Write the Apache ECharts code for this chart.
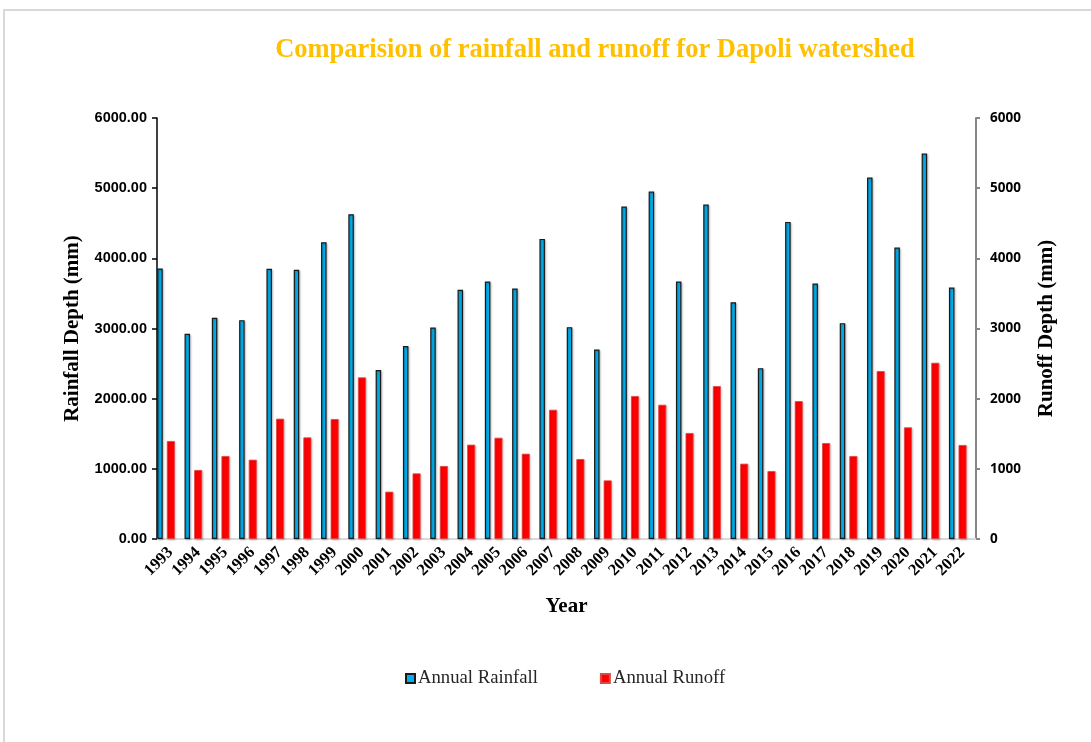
<!DOCTYPE html>
<html>
<head>
<meta charset="utf-8">
<script src="https://cdn.jsdelivr.net/npm/echarts@6/dist/echarts.min.js"></script>
<style>
  html, body { margin: 0; padding: 0; background: #ffffff; }
  #chart { width: 1091px; height: 742px; }
</style>
</head>
<body>
<div id="chart"></div>
<script>
const years = ['1993','1994','1995','1996','1997','1998','1999','2000','2001','2002','2003','2004','2005','2006','2007','2008','2009','2010','2011','2012','2013','2014','2015','2016','2017','2018','2019','2020','2021','2022'];
const annualRainfall = [3855, 2924, 3152, 3119, 3850, 3836, 4230, 4629, 2407, 2749, 3015, 3551, 3670, 3570, 4277, 3019, 2701, 4738, 4951, 3670, 4766, 3375, 2435, 4519, 3641, 3076, 5151, 4154, 5493, 3585];
const annualRunoff = [1396, 983, 1182, 1130, 1714, 1448, 1709, 2303, 674, 935, 1040, 1344, 1443, 1215, 1842, 1139, 835, 2037, 1913, 1510, 2179, 1073, 968, 1965, 1367, 1182, 2393, 1591, 2511, 1339];
const axisMin = 0, axisMax = 6000, axisStep = 1000;

const serif = '"Liberation Serif", "Times New Roman", serif';
const sans = '"Liberation Sans", Arial, sans-serif';

const chart = echarts.init(document.getElementById('chart'), null, { renderer: 'canvas' });
chart.setOption({
  backgroundColor: '#ffffff',
  animation: false,
  graphic: [{
    type: 'rect', silent: true, z: -10,
    shape: { x: 4, y: 10, width: 1200, height: 1000 },
    style: { fill: 'none', stroke: '#d9d9d9', lineWidth: 2 }
  }],
  title: {
    text: 'Comparision of rainfall and runoff for Dapoli watershed',
    left: 590, top: 32, textAlign: 'center',
    textStyle: { fontFamily: serif, fontWeight: 'bold', fontSize: 26.5, color: '#FFC000' }
  },
  legend: {
    data: ['Annual Rainfall', 'Annual Runoff'],
    left: 400, top: 664,
    itemWidth: 9, itemHeight: 9, itemGap: 62,
    icon: 'rect',
    textStyle: { fontFamily: serif, fontSize: 18.7, color: '#262626', padding: [0, 0, 0, -2] }
  },
  grid: { left: 157, right: 115, top: 118, bottom: 203, containLabel: false },
  xAxis: {
    type: 'category', data: years,
    name: 'Year', nameLocation: 'middle', nameGap: 57,
    nameTextStyle: { fontFamily: serif, fontWeight: 'bold', fontSize: 21, color: '#000' },
    axisLine: { show: true, lineStyle: { color: '#d9d9d9', width: 2 } },
    axisTick: { show: false },
    axisLabel: { rotate: 45, interval: 0, margin: 11, fontFamily: serif, fontWeight: 'bold', fontSize: 16.5, color: '#000' },
    splitLine: { show: false }
  },
  yAxis: [{
    type: 'value', min: axisMin, max: axisMax, interval: axisStep, position: 'left',
    name: 'Rainfall Depth (mm)', nameLocation: 'middle', nameGap: 74, nameRotate: 90,
    nameTextStyle: { fontFamily: serif, fontWeight: 'bold', fontSize: 21, color: '#000' },
    axisLine: { show: true, lineStyle: { color: '#000', width: 1.5 } },
    axisTick: { show: true, inside: false, length: 5, lineStyle: { color: '#000', width: 1.5 } },
    axisLabel: { margin: 10, formatter: v => v.toFixed(2), fontFamily: sans, fontWeight: 'bold', fontSize: 14.5, color: '#000' },
    splitLine: { show: false }
  }, {
    type: 'value', min: axisMin, max: axisMax, interval: axisStep, position: 'right',
    name: 'Runoff Depth (mm)', nameLocation: 'middle', nameGap: 60, nameRotate: 90,
    nameTextStyle: { fontFamily: serif, fontWeight: 'bold', fontSize: 21, color: '#000' },
    axisLine: { show: true, lineStyle: { color: '#868686', width: 2 } },
    axisTick: { show: true, inside: false, length: 4, lineStyle: { color: '#868686', width: 2 } },
    axisLabel: { margin: 14, formatter: v => String(v), fontFamily: '"Open Sans", sans-serif', fontWeight: 'bold', fontSize: 13.5, color: '#000' },
    splitLine: { show: false }
  }],
  series: [{
    name: 'Annual Rainfall', type: 'bar', yAxisIndex: 0, data: annualRainfall,
    barWidth: 5.5, barGap: '75%',
    itemStyle: { color: '#00B0F0', borderColor: '#1a1a1a', borderWidth: 1.2,
      shadowColor: 'rgba(0,0,0,0.25)', shadowBlur: 2, shadowOffsetX: 1, shadowOffsetY: 1 }
  }, {
    name: 'Annual Runoff', type: 'bar', yAxisIndex: 1, data: annualRunoff,
    barWidth: 8, barGap: '75%',
    itemStyle: { color: '#FF0000', borderColor: '#e04848', borderWidth: 0.8,
      shadowColor: 'rgba(0,0,0,0.2)', shadowBlur: 2, shadowOffsetX: 1, shadowOffsetY: 1 }
  }, {
    name: 'spacer', type: 'bar', yAxisIndex: 1, data: [],
    barWidth: 3.2, barGap: '75%', silent: true,
    itemStyle: { color: 'transparent' }
  }]
});
</script>
</body>
</html>
